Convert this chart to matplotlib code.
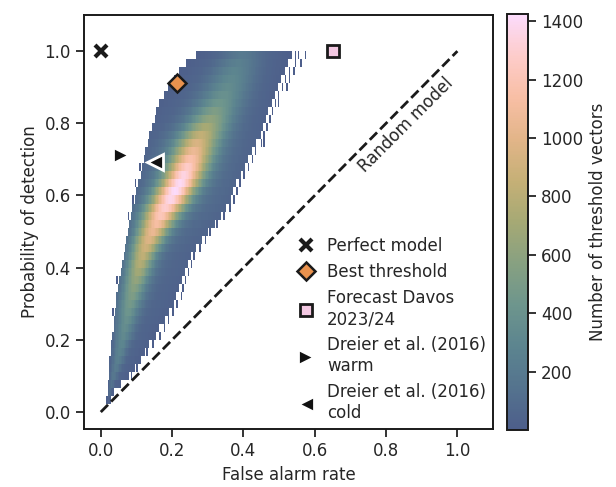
import matplotlib
matplotlib.use("Agg")
import matplotlib.pyplot as plt
import numpy as np
import seaborn as sns
from matplotlib.colors import LinearSegmentedColormap, to_rgb

# POD bins of width 1/45; one entry per occupied bin (bins 1..44)
pod_bins = np.arange(1, 45)
far_lo = [0.018, 0.020, 0.022, 0.023, 0.025, 0.026, 0.028, 0.030, 0.032, 0.035,
          0.038, 0.040, 0.043, 0.046, 0.049, 0.052, 0.056, 0.060, 0.064, 0.068,
          0.073, 0.077, 0.080, 0.084, 0.089, 0.095, 0.100, 0.105, 0.111, 0.116,
          0.121, 0.126, 0.131, 0.138, 0.145, 0.152, 0.158, 0.166, 0.177, 0.190,
          0.204, 0.222, 0.242, 0.268]
far_hi = [0.028, 0.038, 0.055, 0.080, 0.095, 0.110, 0.122, 0.135, 0.155, 0.165,
          0.180, 0.192, 0.205, 0.213, 0.220, 0.228, 0.237, 0.242, 0.250, 0.268,
          0.285, 0.298, 0.318, 0.335, 0.352, 0.362, 0.370, 0.380, 0.390, 0.402,
          0.413, 0.425, 0.437, 0.447, 0.455, 0.462, 0.470, 0.480, 0.488, 0.497,
          0.505, 0.515, 0.525, 0.537]
far_mode = [0.021, 0.025, 0.030, 0.036, 0.042, 0.048, 0.053, 0.058, 0.063, 0.067,
            0.072, 0.076, 0.081, 0.087, 0.092, 0.098, 0.104, 0.110, 0.117, 0.125,
            0.134, 0.145, 0.156, 0.167, 0.180, 0.195, 0.208, 0.222, 0.233, 0.243,
            0.252, 0.261, 0.270, 0.282, 0.295, 0.308, 0.320, 0.333, 0.345, 0.356,
            0.366, 0.375, 0.385, 0.395]
peak_count = [60, 110, 150, 190, 220, 250, 280, 300, 330, 360,
              390, 430, 470, 520, 570, 630, 700, 770, 830, 900,
              970, 1050, 1130, 1220, 1300, 1370, 1424, 1400, 1350, 1270,
              1170, 1060, 950, 840, 720, 610, 520, 440, 390, 350,
              320, 290, 250, 200]

# isolated sparse cells along the row ends: (POD bin, FAR)
sparse_bin = [44, 44, 44, 43, 43, 42, 42, 41, 41, 40, 40, 39, 38, 38, 37, 36,
              35, 34, 33, 33, 32, 31, 30, 29, 28, 27, 26, 25, 24, 23, 22, 21,
              20, 19, 18, 17, 16, 15, 14, 13, 12, 11, 10, 9, 8, 7, 5, 4,
              30, 28, 26, 24, 16, 12]
sparse_far = [0.545, 0.556, 0.575, 0.545, 0.562, 0.530, 0.541, 0.518, 0.530,
              0.509, 0.524, 0.500, 0.492, 0.499, 0.481, 0.473, 0.466, 0.459,
              0.449, 0.458, 0.436, 0.425, 0.415, 0.401, 0.391, 0.383, 0.375,
              0.362, 0.346, 0.328, 0.308, 0.296, 0.278, 0.262, 0.254, 0.246,
              0.240, 0.232, 0.225, 0.213, 0.203, 0.190, 0.177, 0.165, 0.145,
              0.131, 0.104, 0.086,
              0.110, 0.099, 0.089, 0.078, 0.047, 0.036]
sparse_count = 5

# single points
perfect = (0.0, 1.0)
best = (0.214, 0.911)
davos = (0.652, 1.0)
dreier_warm = (0.057, 0.712)
dreier_cold = (0.153, 0.693)

# batlow-like colour ramp, washed with white (alpha 0.7)
batlow = ["#011959", "#0B375E", "#16505F", "#2F685C", "#54784B", "#7F8439",
          "#AD8E3C", "#D69556", "#F5A37E", "#FDB6B3", "#FACCFA"]
alpha = 0.7
washed = [tuple(alpha * c + (1 - alpha) for c in to_rgb(h)) for h in batlow]
cmap = LinearSegmentedColormap.from_list("batlow_washed", washed)

# build count grid
dx = 0.004
x_edges = np.arange(0, 0.6 + dx, dx)
y_edges = np.arange(0, 46) / 45
xc = 0.5 * (x_edges[:-1] + x_edges[1:])
counts = np.zeros((45, len(xc)))
for k, lo, hi, m, pk in zip(pod_bins, far_lo, far_hi, far_mode, peak_count):
    sigma = 0.14 * (hi - lo)
    base0 = 40 + 0.1 * pk
    dist = np.where(xc < m, (m - xc) / max(m - lo, 1e-6), (xc - m) / max(hi - m, 1e-6))
    base = base0 * (1 - 0.7 * np.clip(dist, 0, 1))
    row = (pk - base0) * np.exp(-0.5 * ((xc - m) / sigma) ** 2) + base
    row[(xc < lo) | (xc > hi)] = 0
    counts[k] = row
for k, f in zip(sparse_bin, sparse_far):
    j = np.searchsorted(x_edges, f) - 1
    if counts[k, j] < 1:
        counts[k, j] = sparse_count
counts = np.ma.masked_less(counts, 1)

sns.set_theme(style="ticks")
plt.rcParams["font.family"] = ["DejaVu Sans"]
plt.rcParams["font.size"] = 12

fig = plt.figure(figsize=(6.16, 4.87), dpi=100)
ax = fig.add_axes([0.1364, 0.1191, 0.664, 0.850])
cax = fig.add_axes([0.823, 0.117, 0.034, 0.854])

mesh = ax.pcolormesh(x_edges, y_edges, counts, cmap=cmap, vmin=1, vmax=1424,
                     shading="flat", linewidth=0, antialiased=False, rasterized=True)

ax.plot([0, 1], [0, 1], ls="--", color="#1a1a1a", lw=2)
ax.text(0.855, 0.795, "Random model", rotation=45, ha="center", va="center",
        fontsize=12, color="#262626")

ax.plot(*perfect, marker="x", ls="none", ms=9, mew=3, color="#1a1a1a",
        label="Perfect model")
ax.plot(*best, marker="D", ls="none", ms=9, mfc="#E9924E", mec="#1a1a1a", mew=1.8,
        label="Best threshold")
ax.plot(*davos, marker="s", ls="none", ms=8, mfc="#F3C8E2", mec="#1a1a1a", mew=2,
        label="Forecast Davos\n2023/24")
ax.plot(*dreier_warm, marker=">", ls="none", ms=11, mfc="#111111", mec="white", mew=2,
        label="Dreier et al. (2016)\nwarm")
ax.plot(*dreier_cold, marker="<", ls="none", ms=11, mfc="#111111", mec="white", mew=2,
        label="Dreier et al. (2016)\ncold")

ax.set_xlim(-0.047, 1.1)
ax.set_ylim(-0.047, 1.1)
ax.set_xticks(np.arange(0, 1.01, 0.2))
ax.set_yticks(np.arange(0, 1.01, 0.2))
ax.tick_params(labelsize=12, color="#1a1a1a")
ax.set_xlabel("False alarm rate", fontsize=12)
ax.set_ylabel("Probability of detection", fontsize=12)
for s in ax.spines.values():
    s.set_color("#1a1a1a")
    s.set_linewidth(1.4)

ax.legend(loc="lower right", bbox_to_anchor=(1.02, -0.02), frameon=False,
          fontsize=12, handlelength=1.0, labelspacing=0.5)

cb = fig.colorbar(mesh, cax=cax)
cb.set_ticks(np.arange(200, 1401, 200))
cb.ax.tick_params(labelsize=12, color="#1a1a1a")
cb.set_label("Number of threshold vectors", fontsize=12)
cb.outline.set_edgecolor("#1a1a1a")
cb.outline.set_linewidth(1.4)

fig.savefig("out.png", dpi=100)
